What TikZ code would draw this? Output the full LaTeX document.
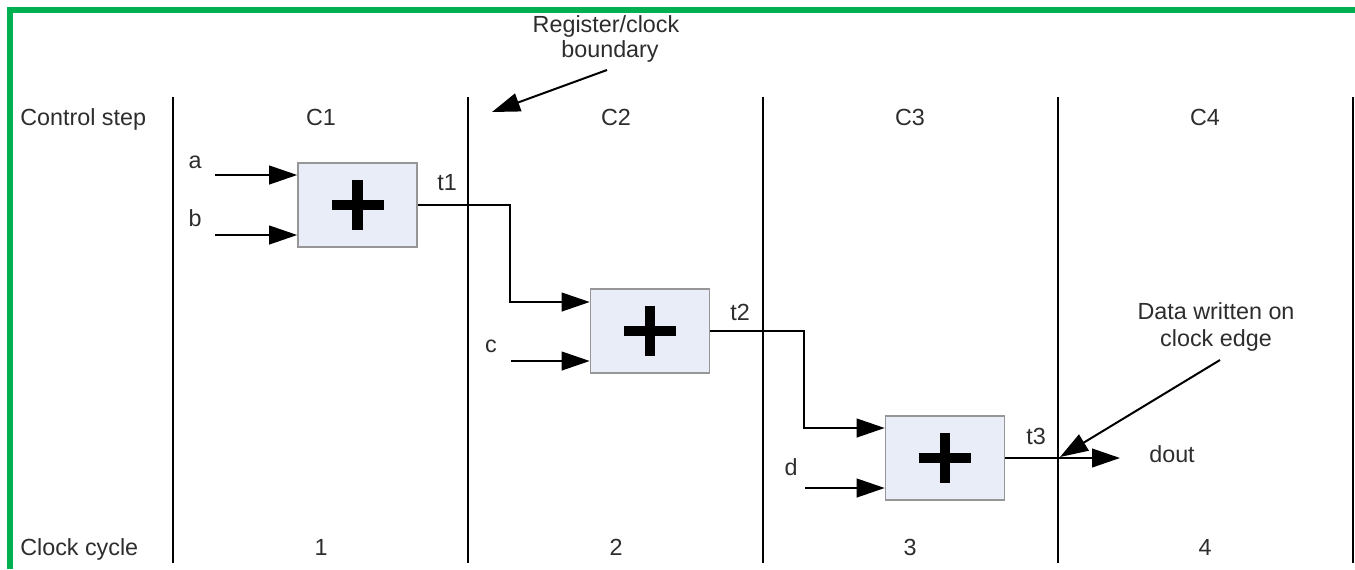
\documentclass[tikz,border=0pt]{standalone}
\usepackage{fontspec}
\setmainfont{Liberation Sans}
\usetikzlibrary{arrows.meta,calc}
\definecolor{grn}{RGB}{0,176,80}
\definecolor{boxfill}{RGB}{233,237,247}
\definecolor{boxline}{RGB}{150,150,150}
\definecolor{txt}{RGB}{45,45,45}
\begin{document}
\begin{tikzpicture}[x=0.75pt,y=-0.75pt,
  lbl/.style={font=\fontsize{17.5}{20}\selectfont, text=txt, inner sep=0pt, anchor=base},
  lblw/.style={lbl, anchor=base west},
  divider/.style={line width=2pt, black},
  wire/.style={line width=1.5pt, black},
  arr/.style={wire, -{Triangle[length=21pt,width=14pt]}},
  adder/.style={draw=boxline, fill=boxfill, line width=1.2pt, minimum width=89.25pt, minimum height=63pt, inner sep=0pt},
  plus/.style={line width=8pt, black}]
\useasboundingbox (0,0) rectangle (1355,569);
\fill[white] (0,0) rectangle (1355,569);
% green frame (top and left)
\draw[grn, line width=4.5pt] (9.5,569) -- (9.5,9.5) -- (1355,9.5);
% dividers
\foreach \x in {173,468,763,1058,1353} {\draw[divider] (\x,97) -- (\x,563);}
% row labels
\node[lblw] (cs) at (20,125) {Control step};
\node[lblw] (cc) at (20,555) {Clock cycle};
\node[lbl] (c1) at (321,125) {C1};
\node[lbl] (c2) at (616,125) {C2};
\node[lbl] (c3) at (910,125) {C3};
\node[lbl] (c4) at (1205,125) {C4};
\node[lbl] (n1) at (321,555) {1};
\node[lbl] (n2) at (616,555) {2};
\node[lbl] (n3) at (910,555) {3};
\node[lbl] (n4) at (1205,555) {4};
% adders
\node[adder] (b1) at (357.5,205) {};
\node[adder] (b2) at (650,331) {};
\node[adder] (b3) at (945,458) {};
\foreach \b in {b1,b2,b3} {
  \draw[plus] ($(\b.center)+(-26,0)$) -- ($(\b.center)+(26,0)$);
  \draw[plus] ($(\b.center)+(0,-25)$) -- ($(\b.center)+(0,25)$);
}
% inputs
\coordinate (ain) at (215,175);
\coordinate (bin) at (215,235);
\coordinate (cin) at (511,361);
\coordinate (din) at (805,488);
\draw[arr] (ain) -- (ain -| b1.west);
\draw[arr] (bin) -- (bin -| b1.west);
\draw[arr] (cin) -- (cin -| b2.west);
\draw[arr] (din) -- (din -| b3.west);
\node[lbl] (la) at (195,168) {a};
\node[lbl] (lb) at (195,226) {b};
\node[lbl] (lc) at (491,352) {c};
\node[lbl] (ld) at (791,475) {d};
% intermediate wires
\draw[arr] (b1.east) -| ($(b2.west)+(-80,-29)$) -- ($(b2.west)+(0,-29)$);
\draw[arr] (b2.east) -| ($(b3.west)+(-81,-30)$) -- ($(b3.west)+(0,-30)$);
\coordinate (dtip) at (1120,458);
\draw[arr] (b3.east) -- (dtip);
\node[lbl] (t1) at (447,190) {t1};
\node[lbl] (t2) at (740,320) {t2};
\node[lbl] (t3) at (1036,444) {t3};
\node[lbl] (dout) at (1172,462) {dout};
% annotations
\node[lbl] (reg1) at (606,32) {Register/clock};
\node[lbl] (reg2) at (610,57) {boundary};
\coordinate (regtail) at (607,70);
\coordinate (regtip) at (492,112);
\draw[arr] (regtail) -- (regtip);
\node[lbl] (dat1) at (1216,319) {Data written on};
\node[lbl] (dat2) at (1216,346) {clock edge};
\coordinate (dattail) at (1220,360);
\coordinate (dattip) at (1060,457);
\draw[arr] (dattail) -- (dattip);
\end{tikzpicture}
\end{document}
